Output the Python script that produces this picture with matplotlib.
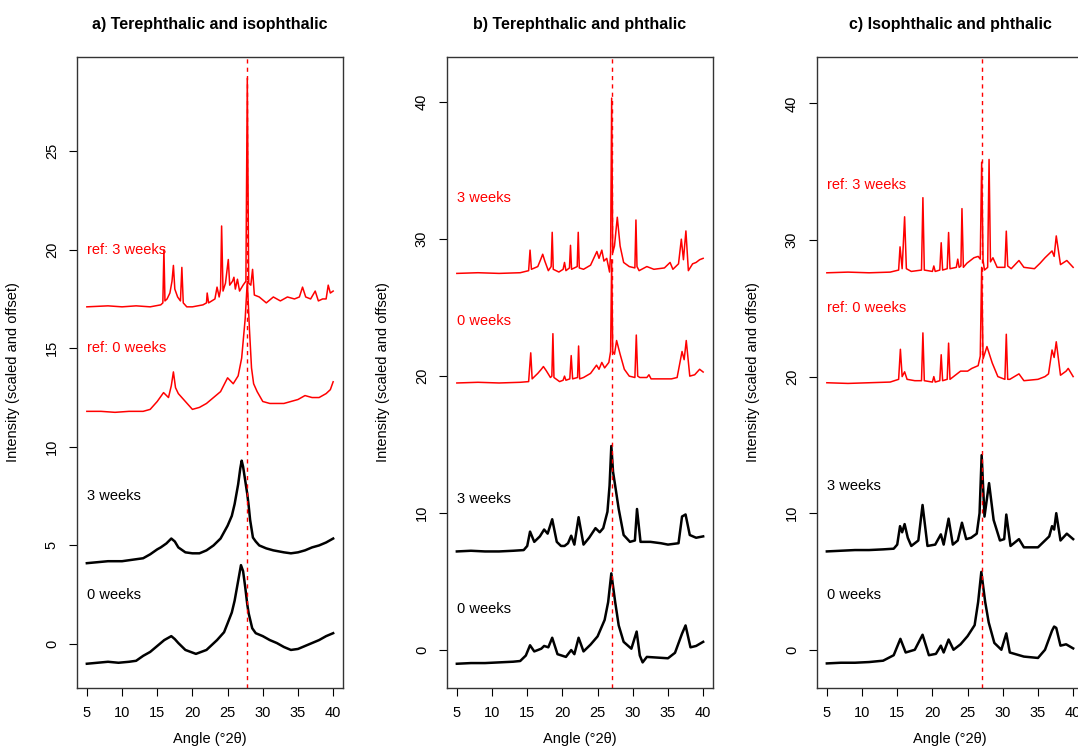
import matplotlib
matplotlib.use("Agg")
import matplotlib.pyplot as plt

plt.rcParams['font.family'] = ['Liberation Sans', 'DejaVu Sans']

# ---- panel a: terephthalic and isophthalic (dashed line at 27.8) ----
a_ref3_x = [5, 8, 10, 12, 14, 15.5, 15.8, 15.95, 16.1, 16.4, 16.8, 17.1, 17.3, 17.5, 17.9, 18.3, 18.5, 18.7, 19.2, 20, 21.5,
            22.0, 22.1, 22.3, 23.2, 23.5, 23.8, 24.0, 24.15, 24.35, 24.7, 25.1, 25.3, 25.7, 25.9, 26.1, 26.4, 26.7, 27.2,
            27.6, 27.8, 28.0, 28.3, 28.55, 28.8, 29.5, 30.5, 31.5, 32.5, 33.5, 34.5, 35.2, 35.65, 36.1, 36.8, 37.45,
            37.9, 38.5, 39.0, 39.3, 39.6, 40]
a_ref3_y = [17.1, 17.15, 17.1, 17.15, 17.1, 17.2, 17.3, 20.0, 17.4, 17.5, 17.8, 18.4, 19.2, 18.0, 17.6, 17.4, 19.1, 17.3,
            17.1, 17.1, 17.2, 17.3, 17.8, 17.3, 17.5, 18.1, 17.6, 18.0, 21.2, 17.9, 18.3, 19.5, 18.2, 18.4, 18.6, 18.0,
            18.5, 17.9, 18.2, 18.4, 28.7, 18.3, 18.2, 19.0, 17.7, 17.6, 17.3, 17.6, 17.4, 17.6, 17.5, 17.6, 18.1, 17.6,
            17.5, 17.9, 17.4, 17.5, 17.5, 18.2, 17.8, 17.9]
a_ref0_x = [5, 7, 9, 11, 13, 14, 15, 15.9, 16.6, 17.0, 17.3, 17.6, 18.0, 19.0, 20.0, 21.0, 22.0, 23.0, 24.0, 25.0, 25.8,
            26.5, 27.0, 27.5, 27.8, 28.1, 28.4, 28.7, 29.2, 30.0, 31.0, 32.0, 33.0, 34.0, 35.0, 36.0, 37.0, 38.0, 39.0,
            39.6, 40]
a_ref0_y = [11.8, 11.8, 11.75, 11.8, 11.8, 11.9, 12.3, 12.75, 12.5, 13.1, 13.8, 13.0, 12.7, 12.3, 11.9, 12.0, 12.2, 12.5,
            12.8, 13.5, 13.2, 13.6, 14.5, 16.5, 18.4, 16.0, 14.0, 13.2, 12.8, 12.3, 12.2, 12.2, 12.2, 12.3, 12.4, 12.6,
            12.5, 12.5, 12.7, 12.9, 13.3]
a_w3_x = [5, 6.5, 8, 10, 12, 13, 14, 15, 15.5, 16.3, 17.0, 17.5, 18.0, 19.0, 20.0, 21.0, 22.0, 23.0, 24.0, 25.0, 25.6,
          26.0, 26.5, 26.8, 27.0, 27.2, 27.5, 27.8, 28.0, 28.2, 28.6, 29.0, 29.5, 30.5, 31.5, 33.0, 34.0, 35.0, 36.0,
          37.0, 38.0, 39.0, 40]
a_w3_y = [4.1, 4.15, 4.2, 4.2, 4.3, 4.35, 4.55, 4.8, 4.9, 5.1, 5.35, 5.2, 4.9, 4.65, 4.6, 4.6, 4.75, 5.0, 5.35, 6.0, 6.5,
          7.1, 8.1, 8.9, 9.3, 9.0, 8.3, 7.6, 7.0, 6.3, 5.4, 5.2, 5.0, 4.85, 4.75, 4.65, 4.6, 4.65, 4.75, 4.9, 5.0, 5.15,
          5.35]
a_w0_x = [5, 6.5, 8, 9.5, 11, 12, 13, 14, 15, 16, 17.0, 17.5, 18.0, 19.0, 20.5, 22.0, 23.5, 24.5, 25.0, 25.6, 26.0, 26.5,
          26.9, 27.2, 27.5, 27.8, 28.0, 28.5, 29.0, 30.0, 31.0, 32.0, 33.0, 34.0, 35.0, 36.0, 37.0, 38.0, 39.0, 40]
a_w0_y = [-1.0, -0.95, -0.9, -0.95, -0.9, -0.85, -0.6, -0.4, -0.1, 0.2, 0.4, 0.25, 0.05, -0.3, -0.5, -0.3, 0.2, 0.6, 1.05,
          1.6, 2.2, 3.2, 4.0, 3.7, 2.9, 2.0, 1.55, 0.8, 0.55, 0.4, 0.2, 0.05, -0.15, -0.3, -0.25, -0.1, 0.05, 0.2, 0.4,
          0.55]

# ---- panel b: terephthalic and phthalic (dashed line at 27.0) ----
b_ref3_x = [5, 8, 11, 14, 15.2, 15.4, 15.6, 16.5, 16.9, 17.2, 17.5, 18.0, 18.4, 18.55, 18.7, 19.5, 20.1, 20.3, 20.5, 21.0,
            21.15, 21.3, 22.1, 22.25, 22.4, 23.0, 24.0, 24.9, 25.2, 25.6, 25.9, 26.3, 26.7, 26.85, 27.0, 27.15, 27.4,
            27.8, 28.2, 28.7, 29.5, 30.3, 30.45, 30.6, 30.9, 32.0, 33.0, 34.5, 35.3, 35.7, 36.5, 36.9, 37.2, 37.55,
            37.9, 38.5, 39.0, 39.5, 40]
b_ref3_y = [27.5, 27.55, 27.5, 27.55, 27.7, 29.2, 27.8, 28.0, 28.5, 28.9, 28.4, 27.7, 28.0, 30.5, 27.8, 27.6, 27.8, 28.3,
            27.7, 27.9, 29.55, 27.8, 28.0, 30.5, 27.9, 27.8, 28.1, 29.1, 28.6, 29.2, 28.4, 28.6, 27.6, 29.0, 40.3, 29.0,
            29.5, 31.6, 29.5, 28.3, 28.0, 27.9, 31.4, 28.0, 27.7, 28.0, 27.8, 27.9, 28.3, 27.8, 28.2, 30.0, 28.5, 30.6,
            27.7, 28.2, 28.3, 28.5, 28.6]
b_ref0_x = [5, 8, 11, 14, 15.2, 15.5, 15.7, 16.5, 17.0, 17.3, 17.7, 18.3, 18.5, 18.65, 18.8, 19.6, 20.1, 20.3, 20.5,
            21.05, 21.25, 21.45, 22.15, 22.3, 22.45, 23.0, 24.0, 24.85, 25.2, 25.6, 26.0, 26.6, 26.85, 27.0, 27.15,
            27.4, 27.7, 28.2, 28.8, 29.5, 30.3, 30.5, 30.7, 31.0, 32.0, 32.3, 32.6, 34.0, 35.5, 36.3, 37.0, 37.3,
            37.6, 38.1, 38.8, 39.5, 40]
b_ref0_y = [19.5, 19.55, 19.5, 19.55, 19.6, 21.7, 19.8, 20.2, 20.5, 20.7, 20.4, 19.9, 20.0, 23.1, 19.9, 19.6, 19.7, 20.0,
            19.7, 19.8, 21.5, 19.8, 19.9, 22.2, 19.8, 19.9, 20.2, 20.8, 20.5, 21.0, 20.6, 21.0, 21.8, 28.5, 21.8, 21.6,
            22.6, 21.6, 20.5, 20.0, 19.9, 23.0, 20.0, 19.9, 19.9, 20.1, 19.8, 19.8, 19.8, 19.9, 21.8, 21.2, 22.6, 20.0,
            20.1, 20.5, 20.3]
b_w3_x = [5, 7, 9, 11, 13, 14.5, 15.0, 15.4, 16.0, 16.8, 17.4, 17.9, 18.55, 19.2, 19.8, 20.3, 20.8, 21.25, 21.7, 22.3,
          23.0, 23.8, 24.7, 25.3, 25.8, 26.4, 26.7, 26.95, 27.2, 27.5, 28.0, 28.7, 29.6, 30.3, 30.6, 31.1, 32.5, 34.0,
          35.0, 36.5, 37.0, 37.5, 38.1, 39.0, 40]
b_w3_y = [7.2, 7.25, 7.2, 7.2, 7.25, 7.3, 7.6, 8.65, 7.9, 8.3, 8.8, 8.5, 9.55, 7.9, 7.6, 7.6, 7.8, 8.35, 7.7, 9.7, 7.7,
          8.2, 8.9, 8.6, 8.9, 10.1, 12.0, 14.9, 13.0, 12.0, 10.3, 8.4, 7.9, 8.0, 10.3, 7.9, 7.9, 7.8, 7.7, 7.8, 9.75,
          9.9, 8.4, 8.2, 8.3]
b_w0_x = [5, 7, 9, 11, 13, 14.0, 14.8, 15.4, 16.0, 17.0, 17.4, 18.0, 18.55, 19.3, 20.5, 21.25, 21.7, 22.3, 23.0, 24.0,
          25.0, 26.0, 26.5, 26.95, 27.5, 28.0, 28.7, 29.8, 30.55, 31.0, 31.4, 32.0, 33.5, 35.0, 36.0, 37.0, 37.5, 38.2,
          39.0, 40]
b_w0_y = [-1.0, -0.95, -0.95, -0.9, -0.85, -0.8, -0.4, 0.35, -0.1, 0.1, 0.3, 0.2, 0.9, -0.3, -0.5, 0.0, -0.3, 0.9, -0.1,
          0.4, 1.0, 2.2, 3.5, 5.6, 3.5, 1.8, 0.6, 0.1, 1.35, -0.4, -0.9, -0.5, -0.55, -0.6, -0.2, 1.2, 1.8, 0.2, 0.3,
          0.6]

# ---- panel c: isophthalic and phthalic (dashed line at 27.0) ----
c_ref3_x = [5, 8, 11, 14, 15.2, 15.4, 15.7, 16.05, 16.3, 17.0, 18.45, 18.65, 18.85, 20.0, 20.2, 20.4, 21.05, 21.25, 21.45,
            22.1, 22.3, 22.5, 23.4, 23.6, 23.8, 24.05, 24.2, 24.4, 24.9, 25.9, 26.5, 26.8, 27.0, 27.2, 27.4, 27.85,
            28.05, 28.25, 28.6, 29.2, 30.3, 30.5, 30.7, 31.2, 32.3, 33.0, 34.5, 35.3, 36.0, 37.0, 37.3, 37.6, 38.2,
            39.1, 40]
c_ref3_y = [27.6, 27.65, 27.6, 27.65, 27.8, 29.5, 27.9, 31.7, 27.9, 27.7, 27.8, 33.1, 27.8, 27.7, 28.1, 27.7, 27.8, 29.8,
            27.8, 27.9, 30.55, 27.9, 28.0, 28.6, 28.0, 28.1, 32.3, 28.0, 28.3, 28.7, 28.8, 28.6, 35.7, 28.5, 27.8, 28.0,
            35.9, 28.4, 28.7, 28.0, 28.0, 30.65, 28.1, 27.9, 28.5, 28.0, 27.9, 28.3, 28.7, 29.2, 28.8, 30.3, 28.2, 28.5,
            28.0]
c_ref0_x = [5, 8, 11, 14, 15.2, 15.45, 15.7, 16.05, 16.4, 17.5, 18.45, 18.65, 18.85, 20.0, 20.2, 20.4, 21.05, 21.25,
            21.45, 22.1, 22.3, 22.5, 23.5, 24.0, 25.0, 25.6, 26.5, 26.8, 27.0, 27.2, 27.75, 28.5, 29.3, 30.3, 30.5,
            30.7, 31.0, 32.3, 33.0, 35.0, 36.0, 36.5, 37.0, 37.3, 37.6, 38.2, 39.0, 39.3, 40]
c_ref0_y = [19.55, 19.5, 19.55, 19.6, 19.8, 22.0, 20.0, 20.35, 19.8, 19.7, 19.7, 23.2, 19.7, 19.6, 20.0, 19.6, 19.7, 21.6,
            19.7, 19.8, 22.45, 19.8, 20.2, 20.4, 20.4, 20.6, 20.8, 21.5, 28.0, 21.3, 22.2, 21.0, 20.0, 19.8, 23.1, 19.8,
            19.8, 20.2, 19.7, 19.8, 20.0, 20.2, 21.95, 21.4, 22.55, 20.1, 20.4, 20.6, 20.0]
c_w3_x = [5, 7, 9, 11, 13, 14.5, 15.0, 15.4, 15.7, 16.05, 16.5, 17.0, 18.0, 18.6, 19.3, 20.4, 21.2, 21.6, 22.3, 22.9,
          23.6, 24.2, 24.8, 25.5, 26.3, 26.7, 27.0, 27.4, 28.05, 28.7, 29.6, 30.2, 30.5, 31.1, 32.3, 33.0, 35.0, 36.0,
          36.6, 37.0, 37.3, 37.6, 38.2, 39.1, 40]
c_w3_y = [7.2, 7.25, 7.3, 7.3, 7.35, 7.4, 7.7, 9.05, 8.6, 9.2, 8.2, 7.6, 8.0, 10.6, 7.6, 7.7, 8.45, 7.7, 9.6, 7.7, 8.0,
          9.3, 8.1, 8.2, 8.5, 10.0, 14.25, 9.75, 12.2, 9.5, 8.0, 8.1, 9.9, 7.6, 8.1, 7.5, 7.5, 8.0, 8.3, 9.05, 8.8, 10.0,
          8.0, 8.5, 8.1]
c_w0_x = [5, 7, 9, 11, 13, 14.5, 15.45, 16.2, 17.5, 18.6, 19.5, 20.5, 21.2, 21.6, 22.3, 23.0, 24.0, 25.0, 26.0, 26.5,
          26.95, 27.5, 28.0, 28.8, 29.8, 30.5, 31.0, 33.0, 35.0, 36.0, 37.0, 37.3, 37.6, 38.2, 39.0, 40]
c_w0_y = [-1.0, -0.95, -0.95, -0.9, -0.8, -0.4, 0.8, -0.2, 0.0, 1.1, -0.4, -0.3, 0.3, -0.2, 0.75, 0.0, 0.4, 1.0, 1.8,
          3.5, 5.7, 3.5, 2.0, 0.5, 0.0, 1.2, -0.2, -0.5, -0.6, 0.0, 1.4, 1.7, 1.6, 0.3, 0.4, 0.1]

titles = ["a) Terephthalic and isophthalic", "b) Terephthalic and phthalic", "c) Isophthalic and phthalic"]
ref_lines = [27.8, 27.0, 27.0]
y_limits = [(-2.23, 29.77), (-2.77, 43.3), (-2.8, 43.4)]
y_ticks = [[0, 5, 10, 15, 20, 25], [0, 10, 20, 30, 40], [0, 10, 20, 30, 40]]
x_ticks = [5, 10, 15, 20, 25, 30, 35, 40]

panels = [
    [(a_ref3_x, a_ref3_y, "red", "ref: 3 weeks", 20.0), (a_ref0_x, a_ref0_y, "red", "ref: 0 weeks", 15.0),
     (a_w3_x, a_w3_y, "black", "3 weeks", 7.5), (a_w0_x, a_w0_y, "black", "0 weeks", 2.5)],
    [(b_ref3_x, b_ref3_y, "red", "3 weeks", 33.0), (b_ref0_x, b_ref0_y, "red", "0 weeks", 24.0),
     (b_w3_x, b_w3_y, "black", "3 weeks", 11.0), (b_w0_x, b_w0_y, "black", "0 weeks", 3.0)],
    [(c_ref3_x, c_ref3_y, "red", "ref: 3 weeks", 34.0), (c_ref0_x, c_ref0_y, "red", "ref: 0 weeks", 25.0),
     (c_w3_x, c_w3_y, "black", "3 weeks", 12.0), (c_w0_x, c_w0_y, "black", "0 weeks", 4.0)],
]

fig = plt.figure(figsize=(10.78, 7.51), dpi=100)
lefts = [77, 447, 817]
for i, left in enumerate(lefts):
    ax = fig.add_axes([left / 1078, 1 - 688 / 751, 266 / 1078, 631 / 751])
    for xs, ys, col, label, ypos in panels[i]:
        ax.plot(xs, ys, color=col, lw=1.8 if col == "black" else 1.1)
        ax.text(5, ypos, label, color=col, fontsize=10.5, ha="left", va="center")
    ax.axvline(ref_lines[i], color="red", lw=1, ls=(0, (3, 3)))
    ax.set_xlim(3.6, 41.4)
    ax.set_ylim(*y_limits[i])
    ax.set_xticks(x_ticks)
    ax.set_yticks(y_ticks[i])
    ax.tick_params(direction="out", length=6, labelsize=10.5, pad=7)
    for lab in ax.get_yticklabels():
        lab.set_rotation(90)
        lab.set_va("center")
    for s in ax.spines.values():
        s.set_linewidth(1.0)
        s.set_color("#333333")
    ax.set_xlabel("Angle (°2θ)", fontsize=10.5)
    ax.xaxis.set_label_coords(0.5, -0.07)
    ax.set_ylabel("Intensity (scaled and offset)", fontsize=10.5)
    ax.yaxis.set_label_coords(-0.214, 0.5)
    ax.text(0.5, 1.052, titles[i], transform=ax.transAxes, ha="center", va="center",
            fontsize=11.5, fontweight="bold")

fig.savefig("out.png", dpi=100)
